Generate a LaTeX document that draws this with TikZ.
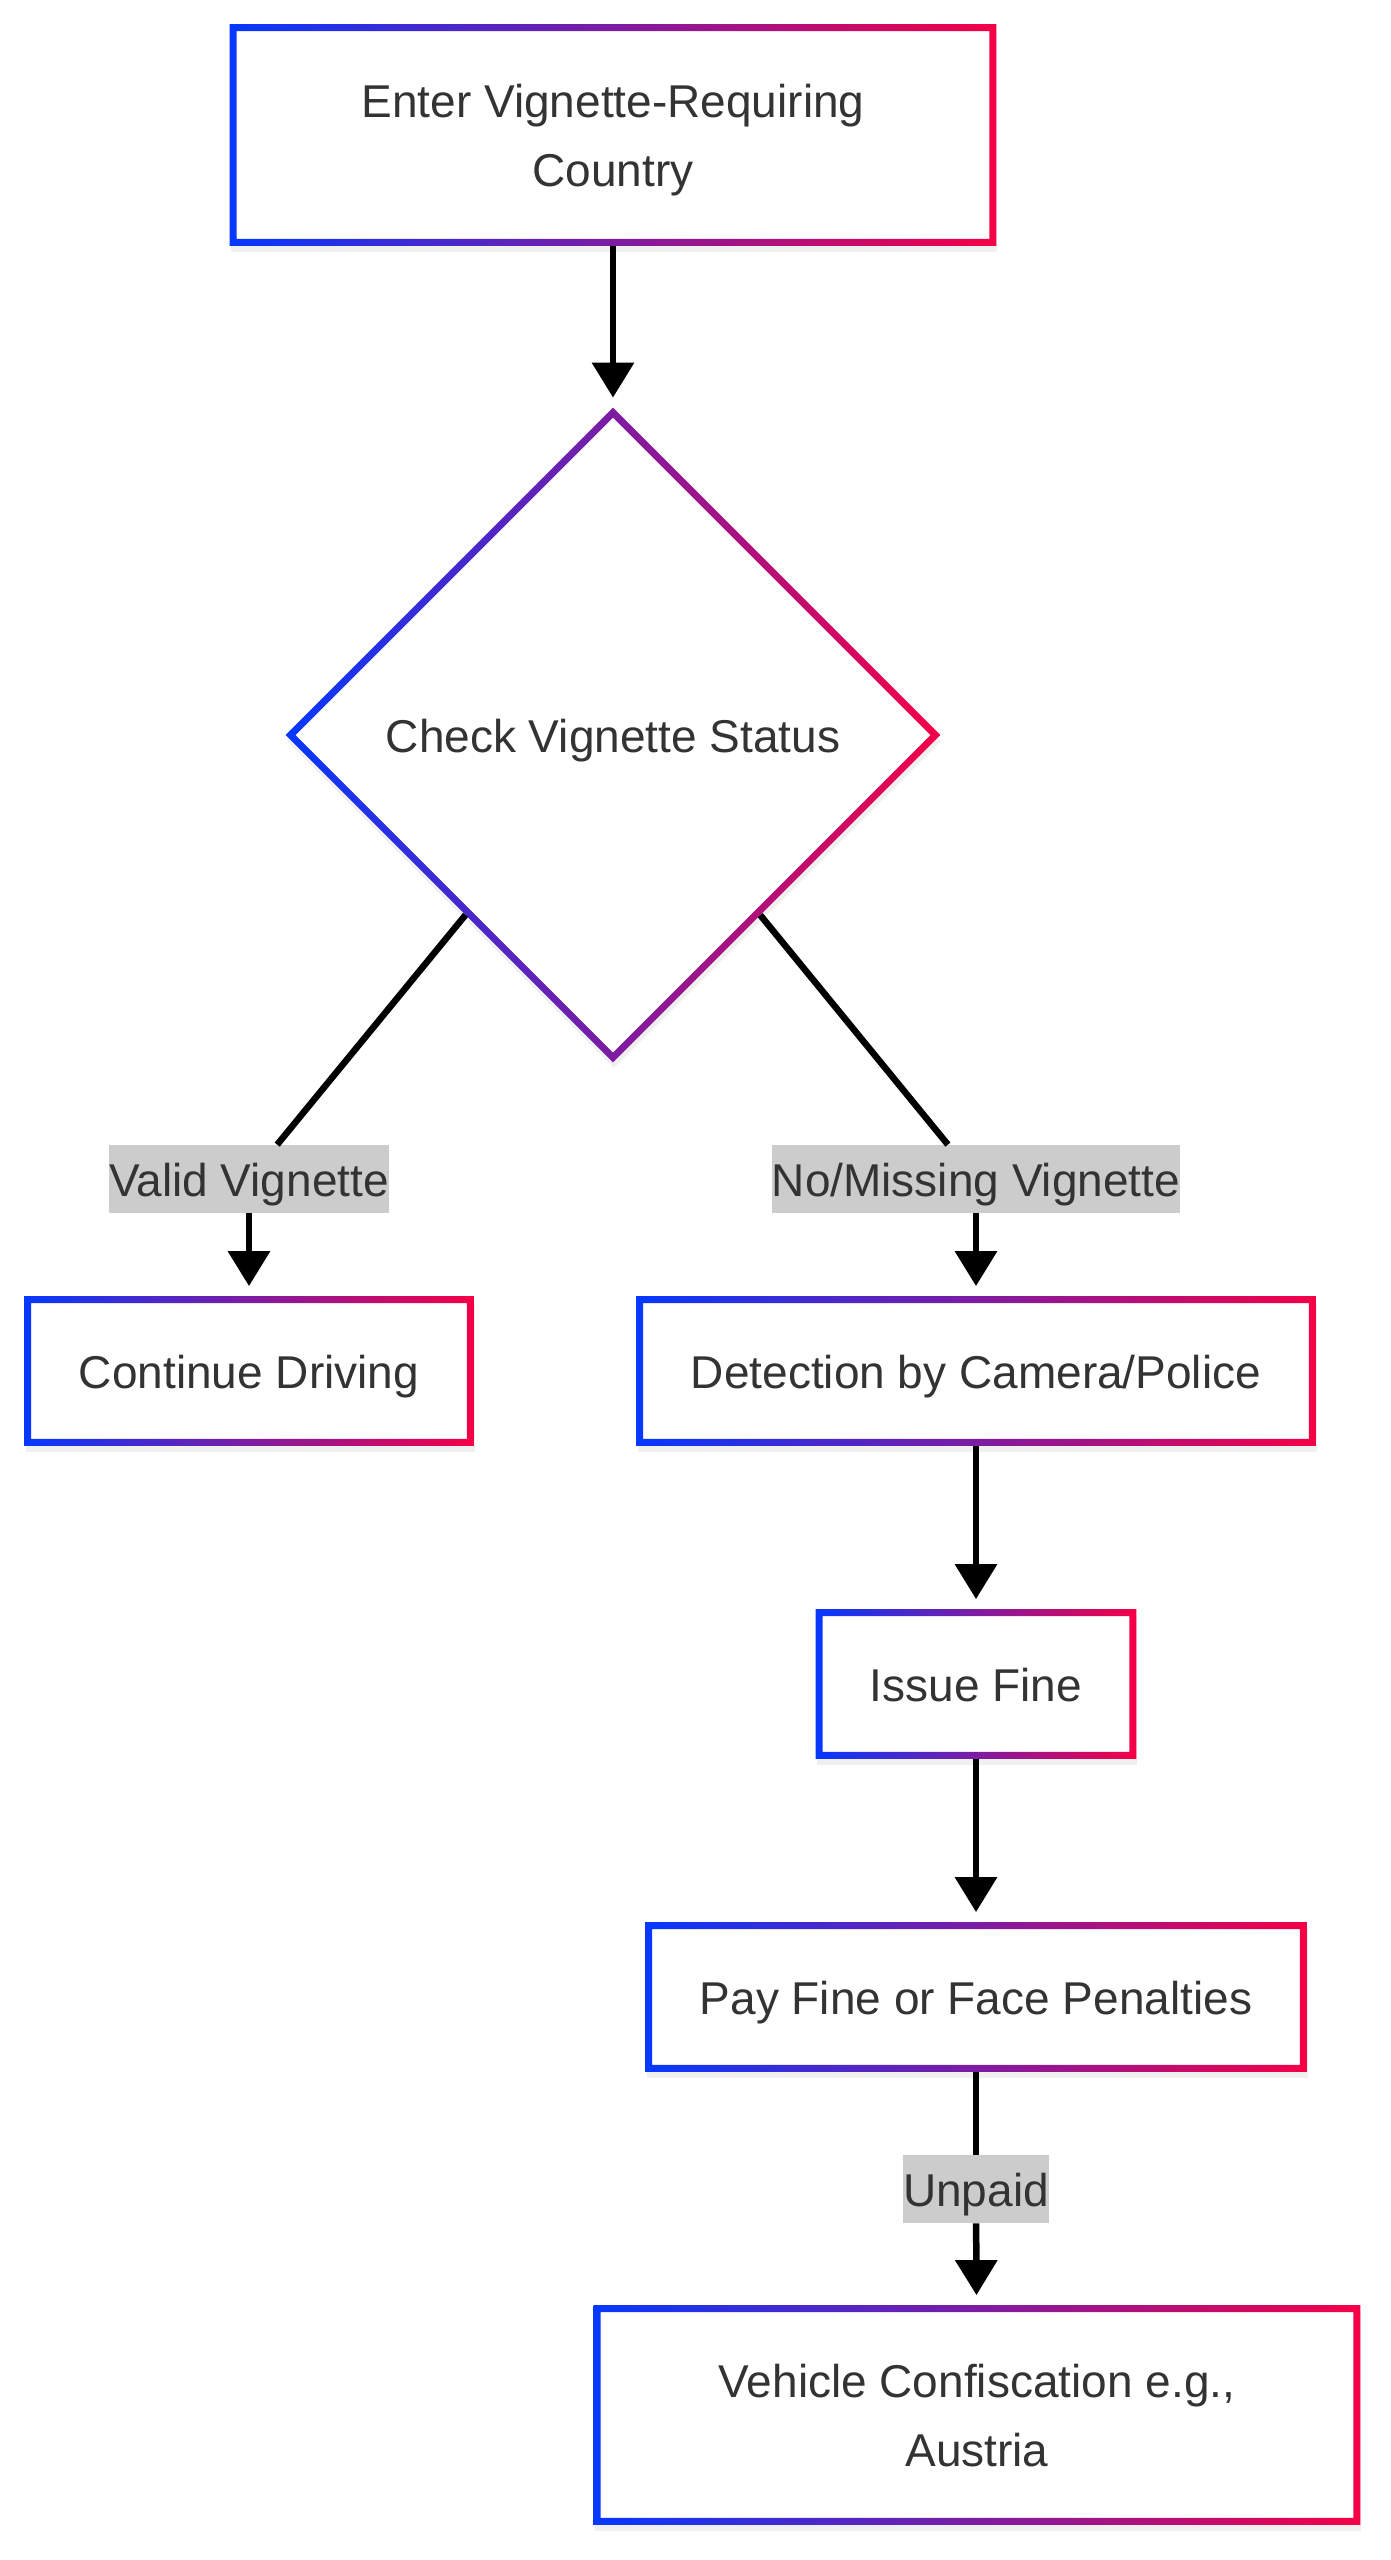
\documentclass[tikz,border=0pt]{standalone}
\usepackage{fontspec}
\setmainfont{Liberation Sans}
\usetikzlibrary{shapes.geometric,arrows.meta,shadows}
\definecolor{vblue}{RGB}{5,56,255}
\definecolor{vred}{RGB}{245,0,70}
\definecolor{txtgray}{RGB}{51,51,51}
\definecolor{lblgray}{RGB}{204,204,204}

\tikzset{
  stepbox/.style={rectangle, fill=white, text=txtgray, inner sep=0pt,
    minimum height=74.5pt, align=center, font=\fontsize{23}{34.5}\selectfont,
    text height=22pt, text depth=5pt,
    drop shadow={opacity=0.12, shadow xshift=0.5pt, shadow yshift=-3pt}},
  twoline/.style={text height=, text depth=},
  decision/.style={diamond, aspect=1, fill=white, text=txtgray, inner sep=0pt,
    minimum width=327pt, minimum height=327pt, font=\fontsize{23}{34.5}\selectfont,
    text height=22pt, text depth=5pt,
    drop shadow={opacity=0.12, shadow xshift=0.5pt, shadow yshift=-3pt}},
  edgelbl/.style={fill=lblgray, text=txtgray, inner sep=0pt, minimum height=34pt,
    text height=22pt, text depth=5pt, font=\fontsize{23}{34.5}\selectfont},
  conn/.style={line width=3.25pt},
  arr/.style={line width=3.25pt, -{Triangle[length=17.5pt,width=20.5pt]}, shorten >=5pt}
}

% struts for the two-line boxes
\newcommand{\topstrut}{\rule{0pt}{22pt}}
\newcommand{\botstrut}{\rule[-5pt]{0pt}{5pt}}

% frame with a left-to-right colour ramp
\newcommand{\gradbox}[1]{%
  \shade[left color=vblue, right color=vred, even odd rule]
    (#1.north west) rectangle (#1.south east)
    ([shift={(3.5pt,-3.5pt)}]#1.north west) rectangle ([shift={(-3.5pt,3.5pt)}]#1.south east);}

\begin{document}
\begin{tikzpicture}[x=0.5pt,y=-0.5pt]
\useasboundingbox (0,0) rectangle (1391,2560);

\node[stepbox, twoline, minimum width=383pt, minimum height=110.5pt] (enter) at (613,135) {\topstrut Enter Vignette-Requiring\\Country\botstrut};
\node[decision] (check) at (613,735) {Check Vignette Status};
\node[edgelbl] (vlab) at (249,1179) {Valid Vignette};
\node[edgelbl] (mlab) at (976,1179) {No/Missing Vignette};
\node[stepbox, minimum width=224.5pt] (cont) at (249,1371) {Continue Driving};
\node[stepbox, minimum width=339.5pt] (detect) at (976,1371) {Detection by Camera/Police};
\node[stepbox, minimum width=160pt] (fine) at (976,1684) {Issue Fine};
\node[stepbox, minimum width=330.5pt] (pay) at (976,1997) {Pay Fine or Face Penalties};
\node[edgelbl] (ulab) at (976,2189) {Unpaid};
\node[stepbox, twoline, minimum width=383pt, minimum height=109.5pt] (confisc) at (977,2415) {\topstrut Vehicle Confiscation e.g.,\\Austria\botstrut};

% frames
\foreach \n in {enter,cont,detect,fine,pay,confisc} {\gradbox{\n}}
\shade[left color=vblue, right color=vred, even odd rule]
  (check.north) -- (check.east) -- (check.south) -- (check.west) -- cycle
  ([yshift=-4.95pt]check.north) -- ([xshift=-4.95pt]check.east) -- ([yshift=4.95pt]check.south) -- ([xshift=4.95pt]check.west) -- cycle;

% connectors
\draw[arr] (enter) -- (check);
\draw[conn] (check) -- (vlab);
\draw[arr] (vlab) -- (cont);
\draw[conn] (check) -- (mlab);
\draw[arr] (mlab) -- (detect);
\draw[arr] (detect) -- (fine);
\draw[arr] (fine) -- (pay);
\draw[conn] (pay) -- (ulab);
\draw[arr] (ulab) -- (confisc);
\end{tikzpicture}
\end{document}
